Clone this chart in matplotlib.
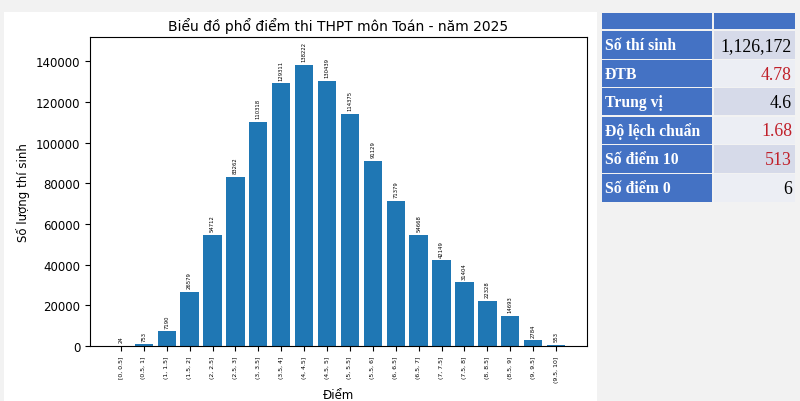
import matplotlib
matplotlib.use("Agg")
import matplotlib.pyplot as plt
from matplotlib.patches import Rectangle

# ---------------- data ----------------
bins = ["[0, 0.5]", "(0.5, 1]", "(1, 1.5]", "(1.5, 2]", "(2, 2.5]", "(2.5, 3]",
        "(3, 3.5]", "(3.5, 4]", "(4, 4.5]", "(4.5, 5]", "(5, 5.5]", "(5.5, 6]",
        "(6, 6.5]", "(6.5, 7]", "(7, 7.5]", "(7.5, 8]", "(8, 8.5]", "(8.5, 9]",
        "(9, 9.5]", "(9.5, 10]"]
counts = [24, 753, 7190, 26579, 54712, 83262, 110318, 129311, 138222, 130439,
          114375, 91129, 71379, 54668, 42149, 31404, 22328, 14693, 2784, 553]

stat_names = ["Số thí sinh", "ĐTB", "Trung vị", "Độ lệch chuẩn", "Số điểm 10", "Số điểm 0"]
stat_values = ["1,126,172", "4.78", "4.6", "1.68", "513", "6"]
stat_red = [False, True, False, True, True, False]

title = "Biểu đồ phổ điểm thi THPT môn Toán - năm 2025"
xlabel = "Điểm"
ylabel = "Số lượng thí sinh"

# ---------------- figure ----------------
W, H = 800, 402
fig = plt.figure(figsize=(8, 4.02), dpi=100, facecolor="#f2f2f2")

def fr(x0, y0, x1, y1):
    """pixel box (top-left origin) -> figure fraction rect"""
    return [x0 / W, 1 - y1 / H, (x1 - x0) / W, (y1 - y0) / H]

# white chart panel (background axes)
bg = fig.add_axes(fr(4, 13, 597, 402), zorder=-5)
bg.axis("off")
bg.add_patch(Rectangle((0, 0), 1, 1, transform=bg.transAxes, facecolor="white", edgecolor="none"))

ax = fig.add_axes(fr(90, 38, 587, 347), zorder=1)
x = list(range(len(counts)))
ax.bar(x, counts, width=0.8, color="#1f77b4")
for xi, c in zip(x, counts):
    ax.text(xi, c + 1800, str(c), rotation=90, ha="center", va="bottom", fontsize=3.8)
ax.set_xticks(x)
ax.set_xticklabels(bins, rotation=90, fontsize=4.4)
ax.set_xlim(-1.35, len(counts) - 1 + 1.35)
ax.set_ylim(0, max(counts) * 1.1)
ax.set_yticks(range(0, 140001, 20000))
ax.tick_params(axis="y", labelsize=8.5)
ax.set_title(title, fontsize=10, pad=5)
ax.set_xlabel(xlabel, fontsize=8.5, labelpad=4)
ax.set_ylabel(ylabel, fontsize=8.5)
ax.set_facecolor("white")

# ---------------- stats table ----------------
tax = fig.add_axes(fr(602, 14, 795, 204), zorder=1)
tax.set_xlim(0, 193)
tax.set_ylim(190, 0)
tax.axis("off")
blue = "#4472c4"
row_tops = [0, 17, 46, 74, 103, 131, 160]
row_bots = [16, 46, 74, 102, 131, 160, 189]
xsplit = 111
tax.add_patch(Rectangle((0, row_tops[0]), xsplit - 1, row_bots[0] - row_tops[0], facecolor=blue, edgecolor="none"))
tax.add_patch(Rectangle((xsplit + 1, row_tops[0]), 193 - xsplit - 1, row_bots[0] - row_tops[0], facecolor=blue, edgecolor="none"))
for i, (name, val, red) in enumerate(zip(stat_names, stat_values, stat_red)):
    t, b = row_tops[i + 1], row_bots[i + 1]
    tax.add_patch(Rectangle((0, t + 1), xsplit - 1, b - t - 1, facecolor=blue, edgecolor="none"))
    rc = "#d6dae9" if i % 2 == 0 else "#eceef4"
    tax.add_patch(Rectangle((xsplit + 1, t + 1), 193 - xsplit - 1, b - t - 1, facecolor=rc, edgecolor="none"))
    ym = (t + b) / 2 + 1
    tax.text(3, ym, name, color="white", fontweight="bold", family="Liberation Serif",
             fontsize=11.3, va="center", ha="left")
    tax.text(190, ym, val, color="#c0202a" if red else "black", family="Liberation Serif",
             fontsize=12.8, va="center", ha="right")

fig.savefig("out.png", dpi=100, facecolor=fig.get_facecolor())
